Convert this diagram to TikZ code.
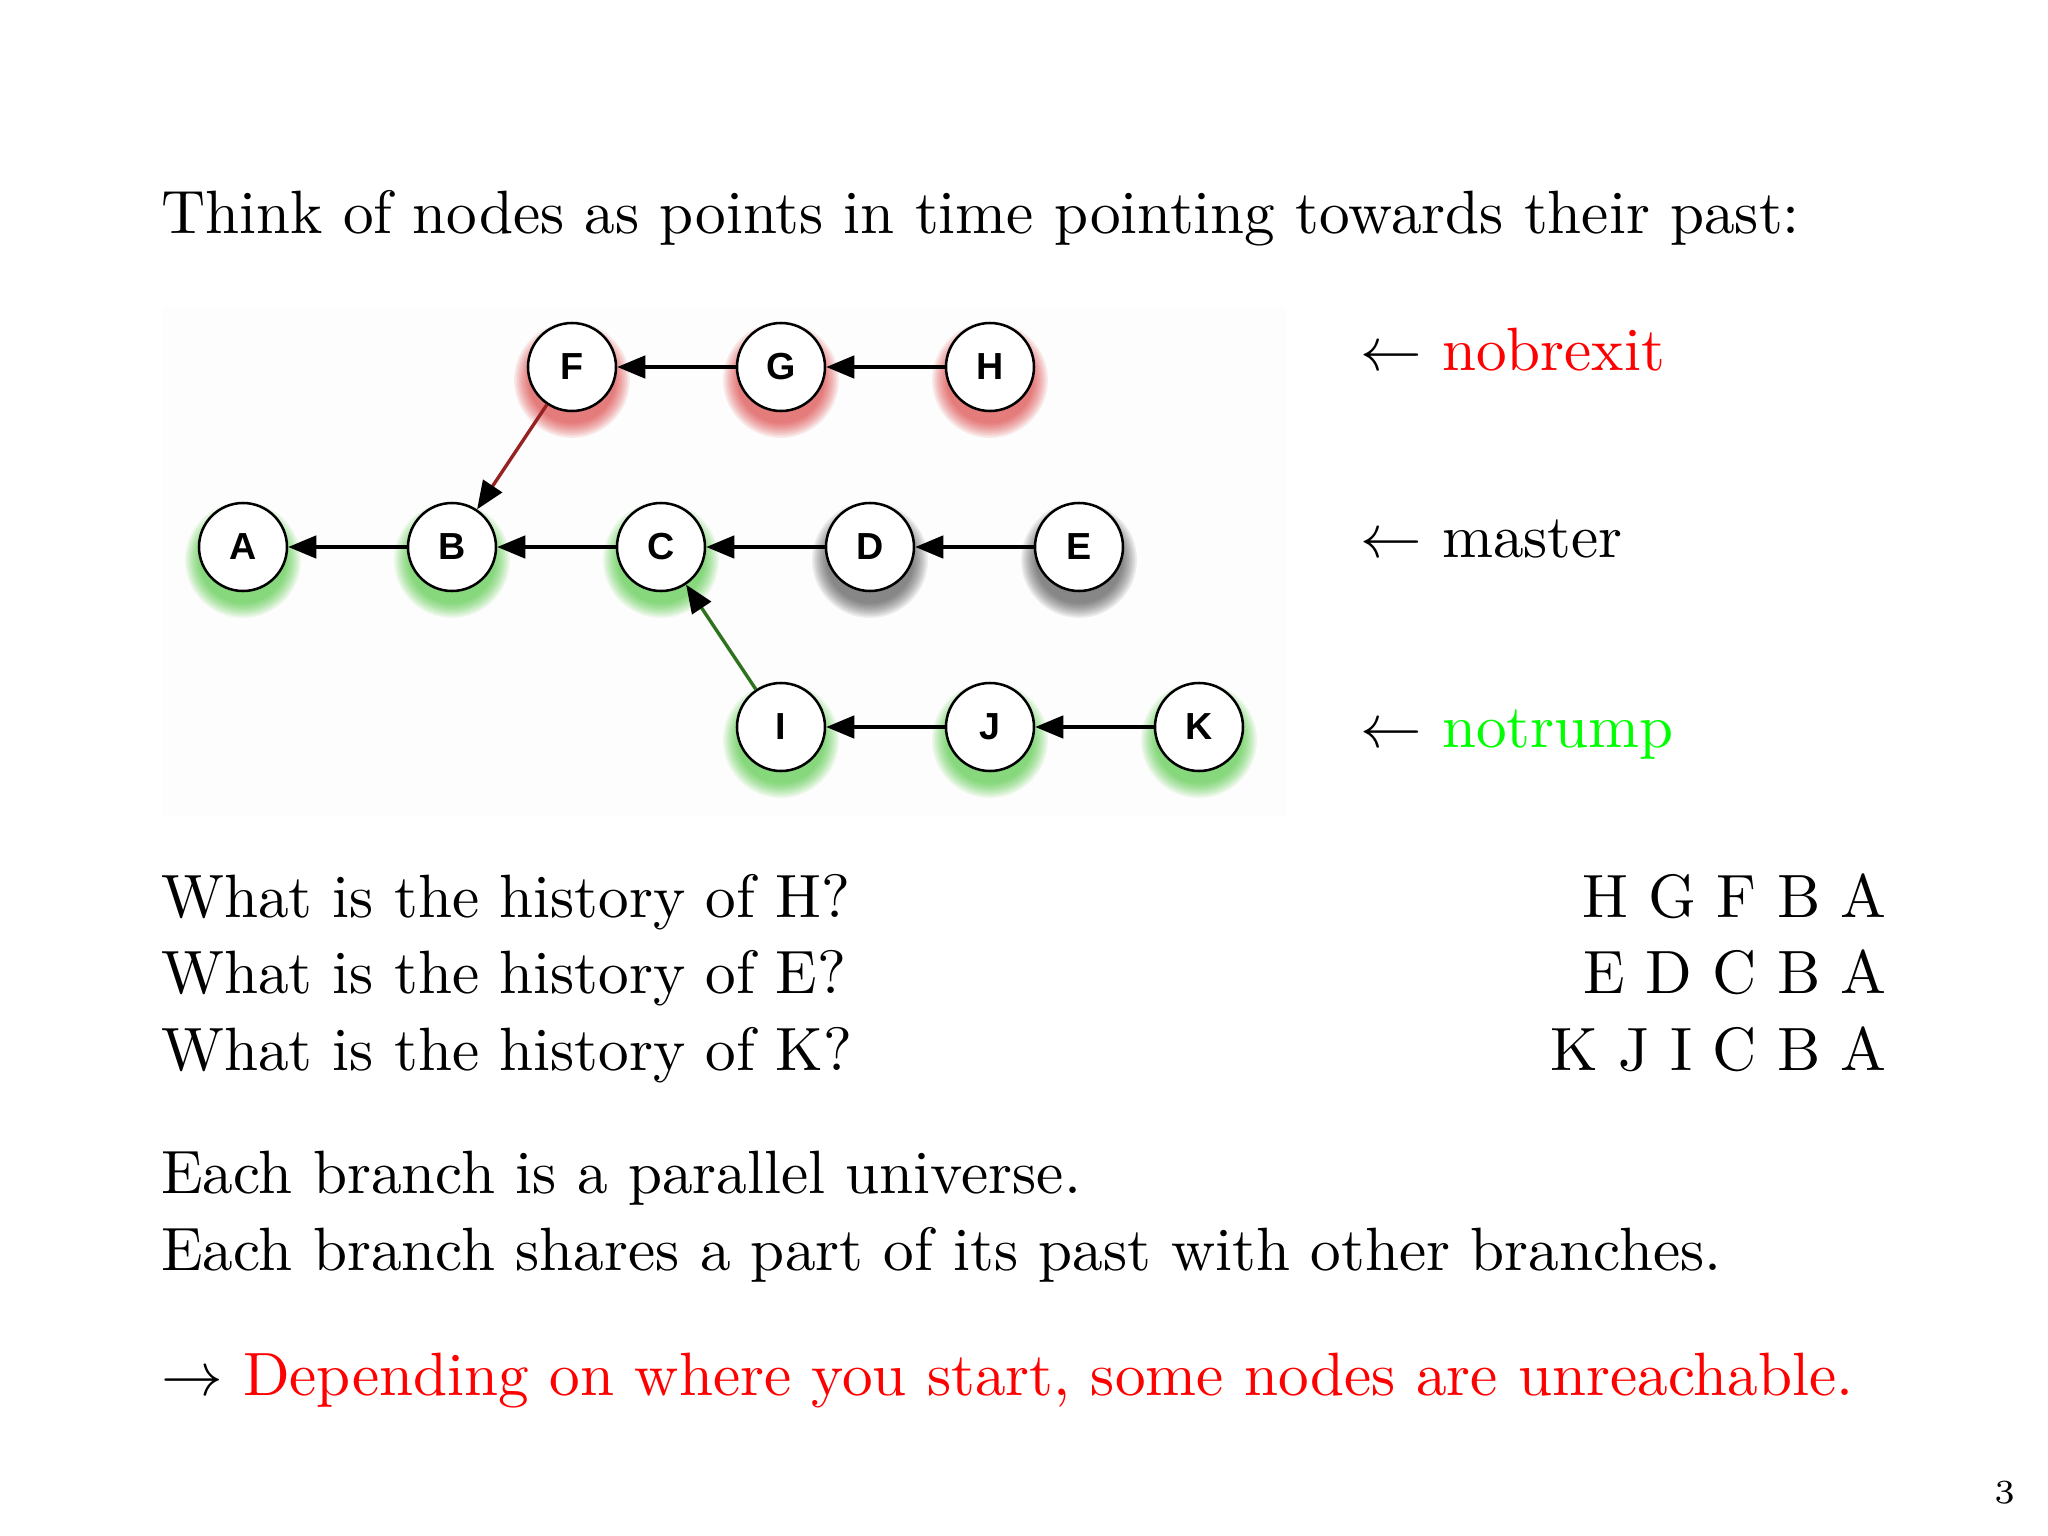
\documentclass[tikz,border=0pt]{standalone}
\usepackage{fontspec}
\newfontfamily\nodefont{Liberation Sans}
\usetikzlibrary{arrows.meta,backgrounds}
\definecolor{edgered}{RGB}{150,35,35}
\definecolor{edgegreen}{RGB}{45,115,30}
\definecolor{glowred}{RGB}{215,20,20}
\definecolor{glowgreen}{RGB}{40,190,20}
\definecolor{glowgray}{RGB}{40,40,40}
\begin{document}
\begin{tikzpicture}[x=0.0625mm,y=-0.0625mm,
  commit/.style={circle, draw=black, line width=0.45pt, fill=white,
    minimum size=5.5mm, inner sep=0pt,
    font=\nodefont\bfseries\fontsize{6.7}{8}\selectfont},
  hist/.style={-{Triangle[length=5pt,width=4pt,color=black]}, line width=0.6pt},
  txt/.style={anchor=base west, inner sep=0pt, font=\fontsize{10.88}{13.5}\selectfont},
  rtxt/.style={anchor=base east, inner sep=0pt, font=\fontsize{10.88}{13.5}\selectfont},
]
\useasboundingbox (0,0) rectangle (2048,1536);

% commits
\node[commit] (A) at (243,547) {A};
\node[commit] (B) at (452,547) {B};
\node[commit] (C) at (661,547) {C};
\node[commit] (D) at (870,547) {D};
\node[commit] (E) at (1079,547) {E};
\node[commit] (F) at (572,367) {F};
\node[commit] (G) at (781,367) {G};
\node[commit] (H) at (990,367) {H};
\node[commit] (I) at (781,727) {I};
\node[commit] (J) at (990,727) {J};
\node[commit] (K) at (1199,727) {K};

% background and glows
\begin{scope}[on background layer]
  \fill[white] (0,0) rectangle (2048,1536);
  \fill[black!0.8] (163,307) rectangle (1286,816);
  \foreach \n/\c in {A/glowgreen,B/glowgreen,C/glowgreen,I/glowgreen,J/glowgreen,K/glowgreen,
                     F/glowred,G/glowred,H/glowred,D/glowgray,E/glowgray}{
    \foreach \k in {1,...,10}{
      \fill[\c, opacity=0.075] (\n) ++(0,13) circle[radius=42+1.6*\k];
    }
  }
\end{scope}

% edges
\draw[hist] (G) -- (F);
\draw[hist] (H) -- (G);
\draw[hist] (B) -- (A);
\draw[hist] (C) -- (B);
\draw[hist] (D) -- (C);
\draw[hist] (E) -- (D);
\draw[hist] (J) -- (I);
\draw[hist] (K) -- (J);
\draw[hist, edgered] (F) -- (B);
\draw[hist, edgegreen] (I) -- (C);

% branch labels
\node[txt] (lnob) at (1359,370) {$\leftarrow$ \textcolor{red}{nobrexit}};
\node[txt] (lmas) at (1359,558) {$\leftarrow$ master};
\node[txt] (lnot) at (1359,747) {$\leftarrow$ \textcolor{green}{notrump}};

% texts
\node[txt] (title) at (160,233) {Think of nodes as points in time pointing towards their past:};
\node[txt] (q1) at (160,917) {What is the history of H?};
\node[txt] (q2) at (160,993) {What is the history of E?};
\node[txt] (q3) at (160,1070) {What is the history of K?};
\node[rtxt] (a1) at (1888,917) {H G F B A};
\node[rtxt] (a2) at (1888,993) {E D C B A};
\node[rtxt] (a3) at (1888,1070) {K J I C B A};
\node[txt] (e1) at (160,1193) {Each branch is a parallel universe.};
\node[txt] (e2) at (160,1270) {Each branch shares a part of its past with other branches.};
\node[txt] (e3) at (160,1395) {$\rightarrow$ \textcolor{red}{Depending on where you start, some nodes are unreachable.}};
\node[anchor=base east, inner sep=0pt, font=\fontsize{6}{7}\selectfont] (pg) at (2016,1503) {3};
\end{tikzpicture}
\end{document}
